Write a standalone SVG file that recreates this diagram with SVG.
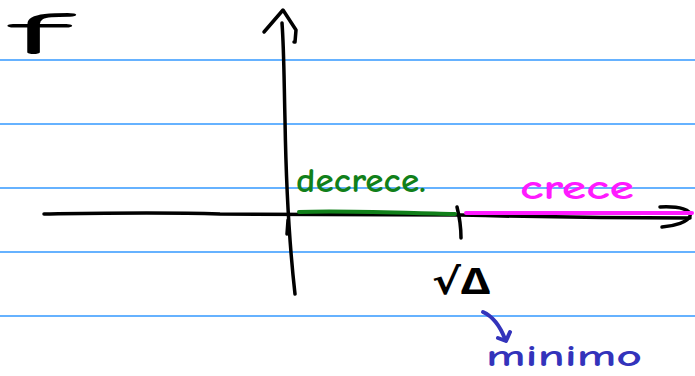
<svg xmlns="http://www.w3.org/2000/svg" width="695" height="376" viewBox="0 0 695 376">
<style>
.rule{stroke:#3399ff;stroke-width:1.3;fill:none}
.ink{fill:none;stroke-linecap:round;stroke-linejoin:round}
.k{stroke:#000;stroke-width:3.5}
.g{stroke:#11801a;stroke-width:4}
.p{stroke:#ff1aff;stroke-width:4}
.b{stroke:#3333bb;stroke-width:4}
.t{font-family:"Comic Neue","Noto Sans","DejaVu Sans",sans-serif;}
</style>
<rect width="695" height="376" fill="#fff"/>
<g id="rules">
<line class="rule" x1="0" y1="60" x2="695" y2="60"/>
<line class="rule" x1="0" y1="124" x2="695" y2="124"/>
<line class="rule" x1="0" y1="188" x2="695" y2="188"/>
<line class="rule" x1="0" y1="252" x2="695" y2="252"/>
<line class="rule" x1="0" y1="316" x2="695" y2="316"/>
</g>
<g id="axes">
<path class="ink k" d="M44,214 C110,213 160,212 220,214 C300,215 380,215 460,215 C540,217 620,218 690,218"/>
<path class="ink k" d="M660,207 C680,206 692,210 690,216 C688,222 675,226 662,227"/>
<path class="ink k" d="M295,294 C290,250 286,180 285,120 C284,80 284,50 282,23"/>
<path class="ink k" d="M264,32 L283,10 L296,30 L295,42 L294,42"/>
<path class="ink k" d="M457,207 C459,215 461,225 461,238"/>
<path class="ink k" d="M288,220 L287,234"/>
</g>
<g id="segments">
<path class="ink g" d="M299,212 C340,210 400,213 455,214"/>
<path class="ink p" d="M466,213 C540,213 620,213 692,213"/>
</g>
<g id="labels">
<text class="t" x="10" y="54" font-size="60" fill="#000" textLength="56" lengthAdjust="spacingAndGlyphs">f</text>
<text class="t" x="296" y="192" font-size="34" fill="#11801a" font-weight="bold" textLength="130" lengthAdjust="spacingAndGlyphs">decrece.</text>
<text class="t" x="520" y="199" font-size="34" fill="#ff1aff" font-weight="bold" textLength="114" lengthAdjust="spacingAndGlyphs">crece</text>
<text class="t" x="432" y="294" font-size="36" fill="#000" font-weight="bold" textLength="58" lengthAdjust="spacingAndGlyphs">√Δ</text>
<text class="t" x="486" y="366" font-size="30" fill="#3333bb" font-weight="bold" textLength="156" lengthAdjust="spacingAndGlyphs">minimo</text>
</g>
<g id="connectors">
<path class="ink b" d="M483,312 C492,316 500,326 505,339"/>
<path class="ink b" d="M498,338 L506,341 L510,332"/>
</g>
</svg>
